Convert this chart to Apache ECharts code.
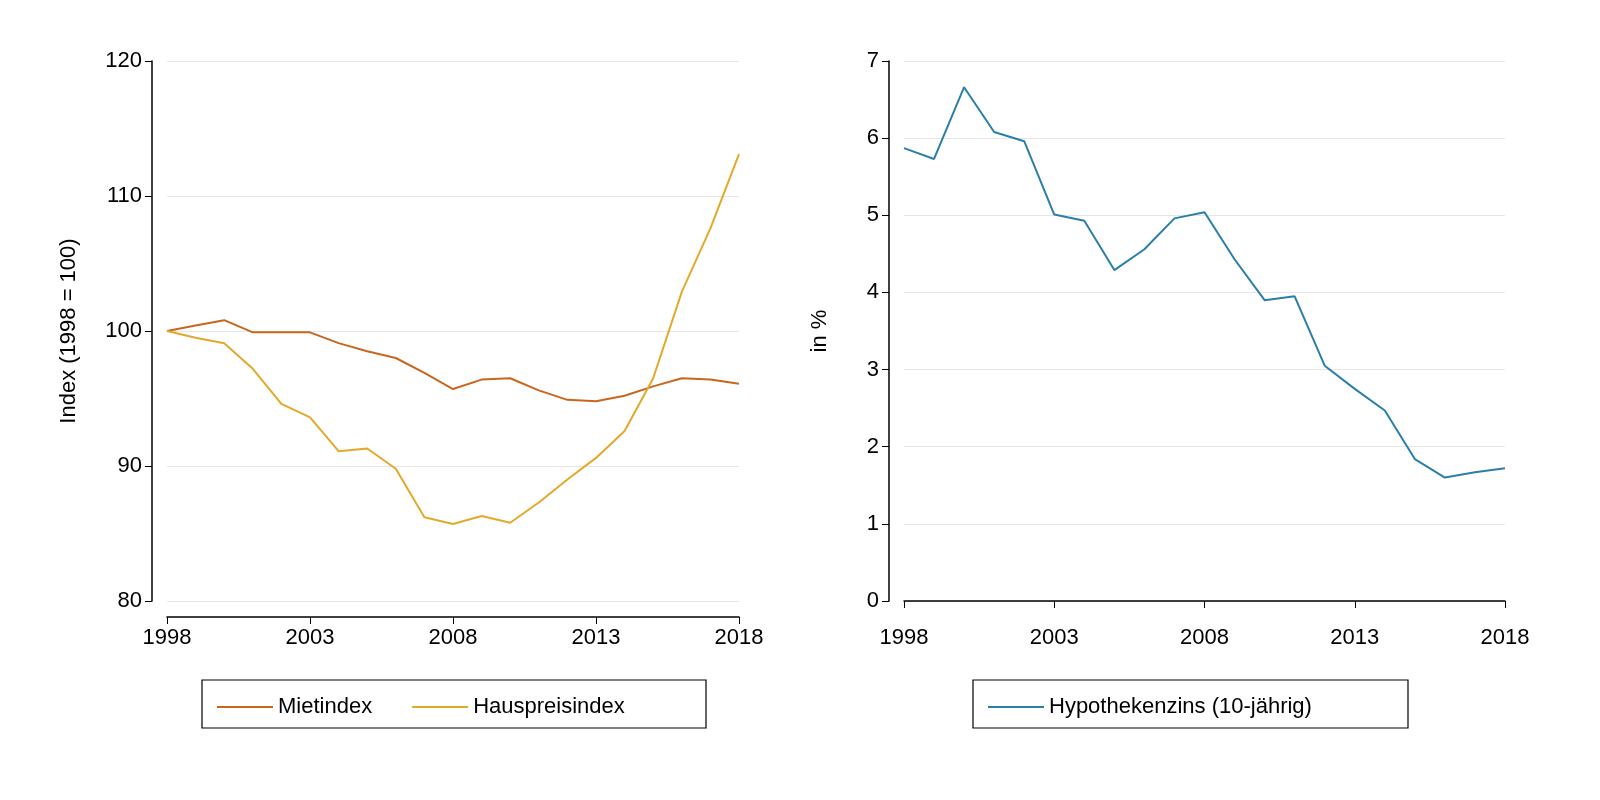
<!DOCTYPE html><html><head><meta charset="utf-8"><script src="https://cdn.jsdelivr.net/npm/echarts@6/dist/echarts.min.js"></script></head><body style="margin:0;background:#fff"><div style="position:relative;width:1600px;height:800px"><div id="a" style="position:absolute;left:0;top:0;width:800px;height:800px"></div><div id="b" style="position:absolute;left:800px;top:0;width:800px;height:800px"></div></div><script>
const years=['1998','1999','2000','2001','2002','2003','2004','2005','2006','2007','2008','2009','2010','2011','2012','2013','2014','2015','2016','2017','2018'];
const mietindex=[100,100.4,100.8,99.9,99.9,99.9,99.1,98.5,98.0,96.9,95.7,96.4,96.5,95.6,94.9,94.8,95.2,95.9,96.5,96.4,96.1];
const hauspreisindex=[100,99.5,99.1,97.2,94.6,93.6,91.1,91.3,89.8,86.2,85.7,86.3,85.8,87.3,89.0,90.6,92.6,96.5,102.9,107.6,113.1];
const hypothekenzins=[5.87,5.73,6.66,6.08,5.96,5.01,4.93,4.29,4.56,4.96,5.04,4.43,3.90,3.95,3.05,2.75,2.47,1.84,1.60,1.67,1.72];
const F='Liberation Sans, Arial, sans-serif';
const TS={color:'#000',fontSize:22,fontFamily:F};
const ax=()=>({type:'category',data:years,boundaryGap:false,offset:16,
 axisLine:{lineStyle:{color:'#000',width:1.5}},axisTick:{interval:4,length:7,lineStyle:{color:'#000'}},
 axisLabel:Object.assign({interval:4,margin:10},TS)});
const ay=(min,max,iv,name,gap)=>({type:'value',min,max,interval:iv,offset:15,name,nameLocation:'middle',nameGap:gap,
 nameTextStyle:TS,
 axisLine:{show:true,lineStyle:{color:'#000',width:1.5}},axisTick:{show:true,length:7,lineStyle:{color:'#000'}},
 axisLabel:Object.assign({margin:10},TS),splitLine:{lineStyle:{color:'#e6e6e6'}}});
const lg=(d,left)=>({data:d,left,top:691,itemWidth:56,itemGap:40,icon:'rect',itemHeight:2,textStyle:TS});
const box=(x,w)=>({type:'rect',shape:{x,y:680,width:w,height:48},style:{fill:'none',stroke:'#000',lineWidth:1.2}});
echarts.init(document.getElementById('a')).setOption({animation:false,
 grid:{left:167,right:61,top:61,bottom:199},xAxis:ax(),yAxis:ay(80,120,10,'Index (1998 = 100)',72),
 graphic:[box(202,504)],legend:lg(['Mietindex','Hauspreisindex'],212),
 series:[{name:'Mietindex',type:'line',data:mietindex,showSymbol:false,color:'#c8661e',lineStyle:{width:2}},
 {name:'Hauspreisindex',type:'line',data:hauspreisindex,showSymbol:false,color:'#e4a82a',lineStyle:{width:2}}]});
echarts.init(document.getElementById('b')).setOption({animation:false,
 grid:{left:104,right:95,top:61,bottom:199},xAxis:ax(),yAxis:ay(0,7,1,'in %',58),
 graphic:[box(173,435)],legend:lg(['Hypothekenzins (10-jährig)'],183),
 series:[{name:'Hypothekenzins (10-jährig)',type:'line',data:hypothekenzins,showSymbol:false,color:'#2a7fa9',lineStyle:{width:2}}]});
</script></body></html>
